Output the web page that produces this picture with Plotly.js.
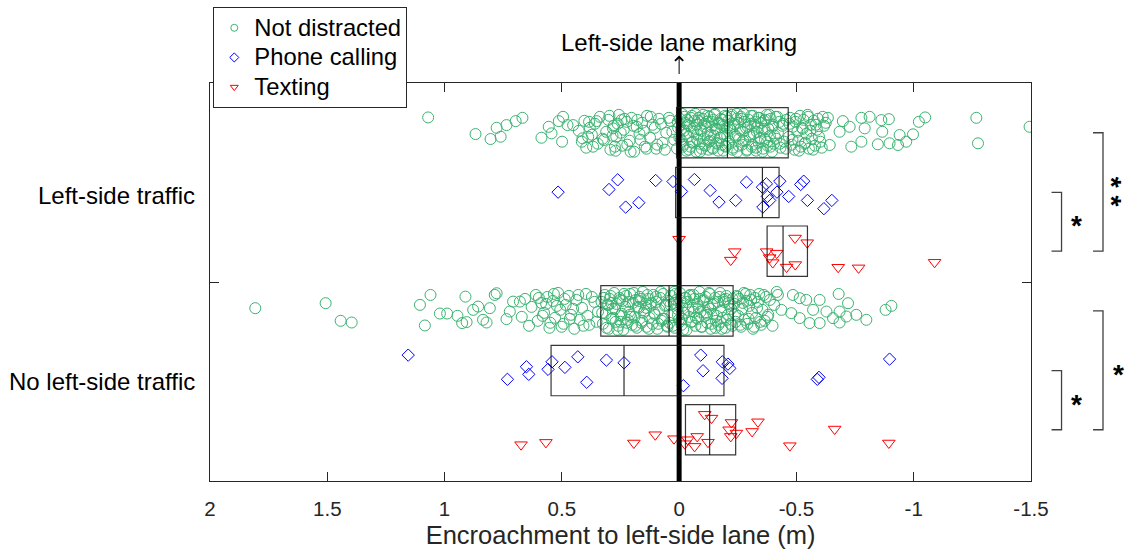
<!DOCTYPE html>
<html>
<head>
<meta charset="utf-8">
<script src="https://cdn.plot.ly/plotly-3.0.1.min.js"></script>
<style>html,body{margin:0;padding:0;background:#fff;}#chart{width:1128px;height:551px;}</style>
</head>
<body>
<div id="chart"></div>
<script>
// ---------------- DATA ----------------
const groupLabels = ['Left-side traffic', 'No left-side traffic'];
const conditionLabels = ['Not distracted', 'Phone calling', 'Texting'];
const xTickVals = [2, 1.5, 1, 0.5, 0, -0.5, -1, -1.5];
const xTickText = ['2', '1.5', '1', '0.5', '0', '-0.5', '-1', '-1.5'];

// Left-side traffic, not distracted: encroachment (m) and vertical jitter
const ndLeftX = [
  1.070,0.868,0.804,0.778,0.761,0.736,0.697,0.668,0.587,0.556,0.544,0.513,0.495,0.499,0.476,0.452,0.384,0.352,0.412,0.388,0.367,0.321,0.282,0.274,0.246,
  0.428,0.415,0.404,0.396,0.381,0.372,0.359,0.347,0.338,0.326,0.311,0.302,0.293,0.279,0.268,0.257,0.243,0.236,0.224,0.211,0.203,0.192,0.181,0.169,0.158,0.146,0.137,0.124,0.113,0.098,0.086,0.071,0.055,0.038,0.021,
  0.009,0.004,-0.003,-0.007,-0.012,-0.018,-0.021,-0.027,-0.031,-0.034,-0.039,-0.045,-0.048,-0.054,-0.057,-0.061,-0.066,-0.072,-0.075,-0.078,-0.084,-0.087,-0.091,-0.096,-0.102,-0.105,-0.109,-0.112,-0.118,-0.122,-0.125,-0.131,-0.133,-0.137,-0.141,-0.146,-0.149,-0.153,-0.158,-0.161,-0.166,-0.169,-0.174,-0.178,-0.182,-0.186,-0.191,-0.195,-0.199,-0.204,
  -0.209,-0.213,-0.218,-0.224,-0.229,-0.232,-0.237,-0.244,-0.248,-0.251,-0.256,-0.263,-0.267,-0.27,-0.275,-0.282,-0.285,-0.29,-0.296,-0.301,-0.304,-0.309,-0.315,-0.318,-0.325,-0.328,-0.334,-0.339,-0.342,-0.347,-0.353,-0.358,-0.361,-0.366,-0.373,-0.377,-0.38,-0.387,-0.39,-0.396,-0.401,-0.404,-0.411,-0.414,-0.421,-0.427,-0.432,-0.44,-0.448,-0.457,
  -0.468,-0.473,-0.48,-0.485,-0.492,-0.496,-0.504,-0.508,-0.515,-0.519,-0.527,-0.53,-0.538,-0.542,-0.55,-0.553,-0.562,-0.566,-0.574,-0.579,-0.587,-0.592,-0.602,-0.608,-0.618,-0.625,
  -0.634,-0.698,-0.727,-0.777,-0.812,-0.862,-0.894,-0.866,-0.847,-0.897,-0.933,-0.940,-0.968,-0.997,-1.022,-1.049,-1.267,-1.274,-1.494,-0.642,-0.684,-0.734,-0.777,-0.791,
  0.297,0.284,0.271,0.262,0.249,0.233,0.221,0.207,0.195,0.178,0.165,0.151,0.139,0.121,0.104,0.093,0.077,0.061,0.044,0.029,
  0.006,-0.001,-0.009,-0.015,-0.023,-0.029,-0.036,-0.042,-0.05,-0.055,-0.063,-0.069,-0.077,-0.082,-0.089,-0.094,-0.1,-0.107,-0.114,-0.12,-0.127,-0.135,-0.139,-0.144,-0.151,-0.156,-0.163,-0.171,-0.176,-0.183,-0.188,-0.193,-0.197,-0.201,-0.205,
  -0.211,-0.216,-0.222,-0.227,-0.235,-0.241,-0.246,-0.254,-0.259,-0.265,-0.273,-0.279,-0.288,-0.293,-0.299,-0.307,-0.312,-0.321,-0.327,-0.331,-0.337,-0.345,-0.35,-0.356,-0.364,-0.369,-0.375,-0.384,-0.389,-0.398,-0.407,-0.418,-0.429,-0.443,-0.455,
  -0.47,-0.483,-0.498,-0.511,-0.524,-0.535,-0.548,-0.559,-0.571,-0.583,-0.596,-0.612
];
const ndLeftJitter = [
  0.154,-0.013,-0.063,0.050,-0.040,0.077,0.117,0.150,-0.050,0.060,-0.006,0.117,0.160,-0.090,0.077,0.077,0.110,0.117,-0.056,-0.040,-0.140,-0.073,0.044,-0.140,0.127,
  0.02,-0.09,0.12,-0.15,0.05,-0.02,0.09,-0.11,0.16,-0.06,0.01,0.13,-0.17,0.07,-0.04,0.18,-0.13,0.03,0.11,-0.08,0.15,-0.19,0.06,-0.01,0.10,-0.14,0.17,-0.05,0.08,-0.16,0.14,-0.10,0.00,0.12,-0.07,
  -0.16,0.05,0.14,-0.07,0.19,-0.12,0.02,0.10,-0.18,0.13,-0.04,0.07,-0.14,0.17,-0.09,0.01,0.12,-0.19,0.08,-0.02,0.15,-0.11,0.04,-0.16,0.18,-0.06,0.09,-0.13,0.11,0.00,-0.17,0.16,-0.08,0.06,-0.15,0.13,-0.03,0.19,-0.10,0.03,-0.18,0.10,-0.05,0.14,-0.12,0.08,-0.01,0.17,-0.14,0.05,
  0.12,-0.09,0.03,0.18,-0.15,0.07,-0.02,0.14,-0.19,0.10,-0.06,0.16,-0.12,0.01,0.19,-0.08,0.05,-0.17,0.13,-0.04,0.09,-0.14,0.17,-0.01,0.11,-0.18,0.06,-0.10,0.15,-0.05,0.02,-0.16,0.12,-0.07,0.18,-0.13,0.04,-0.03,0.14,-0.19,0.08,-0.11,0.16,-0.06,0.00,0.11,-0.15,0.07,-0.09,0.13,
  -0.04,0.15,-0.12,0.06,-0.17,0.11,0.01,-0.08,0.17,-0.14,0.04,0.13,-0.10,-0.01,0.16,-0.16,0.08,-0.06,0.12,-0.13,0.03,0.14,-0.09,-0.15,0.07,0.10,
  0.150,0.117,0.060,0.150,0.160,0.127,0.137,0.010,-0.116,-0.106,-0.123,-0.023,-0.090,-0.016,0.110,0.154,0.150,-0.106,0.060,-0.123,0.010,-0.140,-0.090,0.044,
  0.17,-0.03,-0.18,0.09,0.00,0.14,-0.12,-0.19,0.07,0.13,-0.07,0.02,-0.16,0.16,0.05,-0.12,0.09,-0.17,0.15,0.01,
  0.11,-0.05,0.03,-0.14,0.16,-0.01,0.08,-0.17,0.15,-0.10,0.05,0.19,-0.07,0.12,-0.19,0.02,0.14,-0.12,0.06,0.17,-0.09,-0.02,0.11,-0.16,0.18,0.04,-0.11,0.09,-0.05,0.13,-0.18,0.07,-0.13,0.16,-0.03,
  -0.11,0.05,0.16,-0.17,0.09,-0.04,0.19,-0.13,0.03,0.14,-0.08,0.11,-0.18,0.06,-0.02,0.17,-0.12,0.08,-0.15,0.01,0.15,-0.06,0.10,-0.19,0.04,0.13,-0.09,0.18,-0.14,0.06,-0.03,0.16,-0.11,0.09,-0.16,
  0.09,-0.07,0.14,-0.18,0.05,-0.11,0.18,0.02,-0.17,0.08,-0.04,0.16
];

// Left-side traffic, phone calling
const phoneLeftX = [0.516,0.299,0.262,0.228,0.172,0.100,0.026,-0.010,-0.065,-0.132,-0.170,-0.241,-0.287,-0.355,-0.372,-0.376,-0.357,-0.386,-0.417,-0.429,-0.467,-0.518,-0.531,-0.547,-0.617,-0.651];
const phoneLeftJitter = [0.003,0.03,0.127,-0.147,-0.103,0.12,0.11,0.01,0.13,0.02,-0.097,-0.08,0.103,0.053,0.087,-0.04,-0.147,-0.08,0.003,0.113,-0.04,0.08,0.113,-0.08,-0.163,-0.08];

// Left-side traffic, texting
const textLeftX = [0.000,-0.237,-0.220,-0.373,-0.416,-0.399,-0.386,-0.458,-0.494,-0.495,-0.546,-0.678,-0.765,-1.089];
const textLeftJitter = [0.12,-0.005,-0.09,-0.005,-0.02,-0.115,-0.065,-0.16,0.132,-0.135,0.085,-0.162,-0.168,-0.112];

// No left-side traffic, not distracted
const ndNoX = [
  1.807,1.507,1.443,1.396,1.105,1.060,1.084,1.020,0.989,0.945,0.911,0.925,0.906,0.878,0.857,0.836,0.821,0.807,0.786,0.778,0.736,0.722,0.708,0.679,
  0.671,0.657,0.64,0.629,0.611,0.603,0.588,0.576,0.562,0.553,0.538,0.529,0.516,0.507,0.493,0.484,0.47,0.461,0.447,0.438,0.424,0.414,0.397,0.383,0.361,0.346,
  0.331,0.325,0.317,0.313,0.306,0.3,0.296,0.288,0.284,0.277,0.271,0.267,0.259,0.255,0.248,0.242,0.238,0.23,0.226,0.219,0.213,0.209,0.201,0.197,0.19,0.184,0.18,0.172,0.168,0.161,0.155,0.151,0.143,0.139,0.132,0.126,0.122,0.114,0.11,0.103,0.097,0.093,0.085,0.081,0.074,0.068,0.064,0.056,0.052,0.045,
  0.041,0.034,0.03,0.023,0.019,0.012,0.008,0.001,-0.003,-0.01,-0.014,-0.021,-0.025,-0.032,-0.036,-0.043,-0.047,-0.054,-0.058,-0.065,-0.069,-0.076,-0.08,-0.087,-0.091,-0.098,-0.102,-0.109,-0.113,-0.12,-0.124,-0.131,-0.135,-0.142,-0.146,-0.153,-0.157,-0.164,-0.168,-0.175,-0.179,-0.186,-0.19,-0.197,-0.201,-0.208,-0.212,-0.219,-0.222,-0.228,
  -0.235,-0.241,-0.245,-0.252,-0.256,-0.264,-0.268,-0.276,-0.279,-0.287,-0.291,-0.299,-0.303,-0.311,-0.315,-0.323,-0.328,-0.336,-0.341,-0.35,-0.355,-0.365,-0.37,-0.38,-0.387,-0.398,-0.405,-0.416,
  -0.421,-0.485,-0.514,-0.542,-0.436,-0.478,-0.514,-0.556,-0.599,-0.571,-0.599,-0.628,-0.656,-0.680,-0.720,-0.684,-0.713,-0.684,-0.755,-0.798,-0.880,-0.905,
  0.598,0.582,0.567,0.549,0.534,0.521,0.501,0.488,0.466,0.452,0.43,0.408,0.391,0.372,0.352,
  0.328,0.321,0.31,0.302,0.292,0.281,0.274,0.263,0.252,0.245,0.235,0.223,0.216,0.205,0.193,0.187,0.176,0.164,0.158,0.147,0.135,0.129,0.118,0.107,0.1,0.089,0.078,0.071,0.06,0.049,0.17,0.25,0.14,0.29,0.21,
  0.037,0.027,0.016,0.005,-0.006,-0.017,-0.028,-0.039,-0.05,-0.061,-0.072,-0.083,-0.094,-0.105,-0.116,-0.127,-0.138,-0.149,-0.16,-0.171,-0.182,-0.193,-0.204,-0.215,-0.226,-0.062,-0.011,-0.133,-0.088,-0.177,0.021,-0.044,-0.155,-0.199,-0.119,
  -0.238,-0.249,-0.261,-0.272,-0.284,-0.296,-0.307,-0.319,-0.332,-0.346,-0.361,-0.377
];
const ndNoJitter = [
  0.027,0.077,-0.100,-0.117,0.060,0.160,-0.147,-0.027,-0.027,-0.050,0.143,-0.123,-0.113,0.010,0.043,-0.090,-0.117,0.027,0.160,0.177,-0.083,-0.007,0.093,0.093,
  -0.06,0.12,-0.15,0.04,0.16,-0.10,0.08,-0.02,0.14,-0.17,0.10,-0.07,0.18,0.01,-0.13,0.06,0.15,-0.04,-0.18,0.11,-0.09,0.03,0.17,-0.14,0.09,-0.01,
  0.09,-0.13,0.16,-0.03,0.06,-0.18,0.12,-0.08,0.02,0.18,-0.11,0.07,-0.15,0.13,-0.05,0.10,-0.19,0.04,0.15,-0.09,-0.01,0.17,-0.14,0.08,-0.06,0.11,-0.17,0.03,0.14,-0.12,0.19,-0.02,0.07,-0.16,0.12,-0.07,0.05,-0.13,0.16,-0.04,0.09,-0.18,0.01,0.13,-0.10,0.17,-0.08,0.06,-0.15,0.10,
  -0.12,0.15,-0.04,0.08,-0.17,0.11,0.02,-0.09,0.18,-0.14,0.05,-0.02,0.13,-0.19,0.09,-0.06,0.16,-0.11,0.03,0.12,-0.15,0.07,-0.08,0.19,-0.01,-0.16,0.10,-0.05,0.14,-0.12,0.04,0.17,-0.18,0.06,-0.03,0.13,-0.10,0.09,-0.14,0.18,0.00,-0.07,0.11,-0.17,0.15,-0.04,0.08,-0.13,0.02,0.12,
  0.07,-0.11,0.15,-0.05,0.12,-0.16,0.02,0.18,-0.09,0.10,-0.13,0.05,0.16,-0.02,-0.18,0.13,-0.07,0.09,0.17,-0.14,0.01,-0.10,0.14,-0.04,0.11,-0.15,0.06,0.19,
  0.160,0.160,0.127,0.110,0.010,-0.023,-0.073,-0.123,-0.123,0.010,0.110,-0.007,-0.073,0.170,0.077,-0.007,-0.057,-0.117,-0.040,-0.090,0.010,0.050,
  0.13,-0.05,0.07,-0.12,0.17,0.05,-0.16,0.12,-0.08,0.02,0.16,-0.15,-0.05,0.14,-0.11,
  -0.02,0.13,-0.17,0.06,0.15,-0.07,0.02,-0.19,0.11,-0.03,0.17,-0.12,0.09,-0.06,0.18,-0.15,0.04,0.12,-0.10,0.00,0.16,-0.18,0.08,-0.02,0.14,-0.13,0.19,-0.08,0.05,-0.16,0.10,-0.11,0.03,0.08,-0.04,
  0.06,-0.15,0.17,-0.04,0.10,-0.19,0.13,0.01,-0.11,0.16,-0.07,0.04,-0.16,0.11,-0.02,0.18,-0.13,0.07,-0.05,0.14,-0.18,0.09,-0.09,0.05,-0.15,-0.01,-0.08,0.02,0.12,-0.11,0.19,0.15,-0.17,0.12,-0.04,
  -0.03,0.14,-0.14,0.08,0.17,-0.08,0.11,-0.16,0.03,-0.11,0.16,-0.06
];

// No left-side traffic, phone calling
const phoneNoX = [1.155,0.732,0.651,0.641,0.559,0.542,0.487,0.432,0.394,0.310,0.235,-0.092,-0.102,-0.018,-0.184,-0.208,-0.216,-0.183,-0.589,-0.596,-0.897];
const phoneNoJitter = [0.155,-0.088,0.038,-0.038,0.012,0.088,0.032,0.138,-0.118,0.105,0.078,0.155,-0.002,-0.152,0.088,0.065,0.022,-0.078,-0.088,-0.068,0.115];

// No left-side traffic, texting
const textNoX = [0.674,0.568,0.193,0.102,0.022,-0.024,-0.037,-0.066,-0.077,-0.109,-0.138,-0.123,-0.223,-0.213,-0.220,-0.244,-0.311,-0.336,-0.472,-0.663,-0.894];
const textNoJitter = [-0.150,-0.127,-0.133,-0.050,-0.090,-0.140,-0.100,-0.167,-0.067,0.155,0.117,-0.125,0.073,0.000,-0.067,-0.033,-0.017,0.080,-0.160,0.007,-0.133];

// Box statistics per row (quartile 1, median, quartile 3), rows in order:
// LST-ND, LST-Phone, LST-Text, NoLST-ND, NoLST-Phone, NoLST-Text
const boxQ1 = [0.011, 0.015, -0.375, 0.334, 0.546, -0.027];
const boxMedian = [-0.206, -0.355, -0.443, 0.043, 0.235, -0.130];
const boxQ3 = [-0.465, -0.426, -0.547, -0.230, -0.191, -0.241];

// Significance comparisons: [rowA, rowB, label, level]
const sigPairs = [[1, 2, '*', 0], [0, 2, '**', 1], [4, 5, '*', 0], [3, 5, '*', 1]];

// ---------------- LAYOUT CONSTANTS ----------------
const rowCenter = [3.50, 2.90, 2.31, 1.71, 1.11, 0.515];
const boxHalf = 0.253;
const colors = ['rgb(60,179,113)', 'rgb(0,0,255)', 'rgb(255,0,0)'];
const symbols = ['circle-open', 'diamond-open', 'triangle-down-open'];
const msizes = [11, 9.5, 11];
const FONT = 'Liberation Sans, Arial, Helvetica, sans-serif';

const series = [
  [ndLeftX, ndLeftJitter, 0, 0],
  [phoneLeftX, phoneLeftJitter, 1, 1],
  [textLeftX, textLeftJitter, 2, 2],
  [ndNoX, ndNoJitter, 3, 0],
  [phoneNoX, phoneNoJitter, 4, 1],
  [textNoX, textNoJitter, 5, 2]
];

const traces = [];
series.forEach(([xs, js, row, c]) => {
  traces.push({
    type: 'scatter', mode: 'markers', showlegend: false, hoverinfo: 'x',
    x: xs, y: js.map(j => rowCenter[row] + j),
    marker: { symbol: symbols[c], size: msizes[c], color: colors[c], line: { color: colors[c], width: 1 } }
  });
});
conditionLabels.forEach((name, c) => {
  traces.push({
    type: 'scatter', mode: 'markers', name: '<span style="font-size:23.8px">' + name + '</span>', x: [null], y: [null],
    marker: { symbol: symbols[c], size: 7, color: colors[c], line: { color: colors[c], width: 1 } }
  });
});

const shapes = [];
// thick lane marking line at 0
shapes.push({ type: 'line', xref: 'x', yref: 'paper', x0: 0, x1: 0, y0: 0, y1: 1, line: { color: '#000', width: 5 }, layer: 'above' });
// boxes
rowCenter.forEach((yc, i) => {
  shapes.push({ type: 'rect', xref: 'x', yref: 'y', x0: boxQ1[i], x1: boxQ3[i], y0: yc - boxHalf, y1: yc + boxHalf,
    line: { color: 'rgba(20,20,20,0.85)', width: 1.2 }, layer: 'above' });
  shapes.push({ type: 'line', xref: 'x', yref: 'y', x0: boxMedian[i], x1: boxMedian[i], y0: yc - boxHalf, y1: yc + boxHalf,
    line: { color: 'rgba(20,20,20,0.9)', width: 1.2 }, layer: 'above' });
});

const annotations = [];
// significance brackets (outside plot, paper coordinates)
const bracketX = [1.0372, 1.0877];
const starX = [1.0554, 1.1066];
sigPairs.forEach(([a, b, lab, lvl]) => {
  const xv = bracketX[lvl], xs = xv - 0.0122;
  const ya = rowCenter[a] / 4, yb = rowCenter[b] / 4;
  shapes.push({ type: 'path', xref: 'paper', yref: 'paper',
    path: `M${xs},${ya} L${xv},${ya} L${xv},${yb} L${xs},${yb}`,
    line: { color: '#404040', width: 1.3 } });
  if (lab.length > 1) {
    // stacked stars: rotated text, kept inside the right edge
    annotations.push({ xref: 'paper', yref: 'paper', x: 1.1178, y: (ya + yb) / 2, text: '<b>' + lab.split('').join(' ') + '</b>',
      textangle: 90, showarrow: false, font: { family: FONT, size: 28, color: '#000' }, xanchor: 'right', yanchor: 'middle',
      borderpad: 0 });
  } else {
    annotations.push({ xref: 'paper', yref: 'paper', x: starX[lvl], y: (ya + yb) / 2, yshift: -4,
      text: '<b>' + lab + '</b>', showarrow: false, font: { family: FONT, size: 28, color: '#000' }, xanchor: 'center', yanchor: 'middle' });
  }
});

// group labels
const groupLabelY = [2.874, 1.005];
groupLabels.forEach((g, i) => {
  annotations.push({ xref: 'paper', yref: 'y', x: -0.0158, y: groupLabelY[i], text: g, showarrow: false,
    xanchor: 'right', yanchor: 'middle', font: { family: FONT, size: 24, color: '#000' } });
});

// lane-marking arrow and label
annotations.push({ xref: 'x', yref: 'paper', x: 0, y: 1.069, ax: 0, ay: 20, text: '', showarrow: true,
  arrowhead: 4, arrowsize: 1.6, arrowwidth: 1, arrowcolor: '#000' });
annotations.push({ xref: 'x', yref: 'paper', x: 0, y: 1.101, text: 'Left-side lane marking', showarrow: false,
  xanchor: 'center', yanchor: 'middle', font: { family: FONT, size: 24, color: '#000' } });

const layout = {
  width: 1128, height: 551, autosize: false,
  margin: { l: 210, r: 97, t: 83, b: 70, pad: 0, autoexpand: false },
  paper_bgcolor: '#fff', plot_bgcolor: '#fff',
  font: { family: FONT, color: '#000' },
  showlegend: true,
  legend: { x: 0.004, y: 1.191, xanchor: 'left', yanchor: 'top', bgcolor: '#fff', bordercolor: '#262626', borderwidth: 1,
    font: { family: FONT, size: 20.5, color: '#000' }, tracegroupgap: 0, itemwidth: 30 },
  xaxis: {
    range: [2, -1.5], tickvals: xTickVals, ticktext: xTickText, ticks: 'inside', ticklen: 9, tickwidth: 1, tickcolor: '#262626',
    showline: true, linecolor: '#262626', linewidth: 1, mirror: 'ticks', showgrid: false, zeroline: false,
    tickfont: { family: FONT, size: 20.5, color: '#262626' }, ticklabelstandoff: 9,
    title: { text: 'Encroachment to left-side lane (m)', font: { family: FONT, size: 25.5, color: '#262626' }, standoff: 7 }
  },
  yaxis: {
    range: [0, 4], tickvals: [2], ticktext: [''], ticks: 'inside', ticklen: 9, tickwidth: 1, tickcolor: '#262626',
    showline: true, linecolor: '#262626', linewidth: 1, mirror: 'ticks', showgrid: false, zeroline: false
  },
  shapes: shapes,
  annotations: annotations
};

Plotly.newPlot('chart', traces, layout, { displayModeBar: false, staticPlot: true });
</script>
</body>
</html>
